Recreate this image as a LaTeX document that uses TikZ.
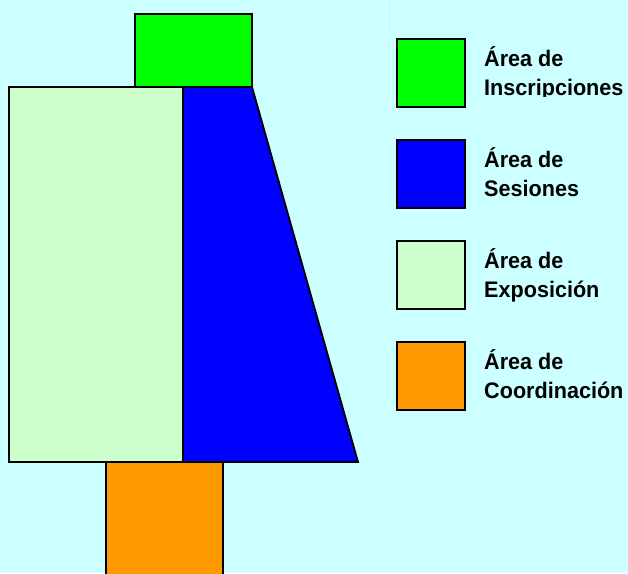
\documentclass[tikz,border=0pt]{standalone}
\usepackage{fontspec}
\setmainfont{Liberation Sans}
\newfontfamily\rotfont[FakeStretch=0.96]{Liberation Sans}
\definecolor{fondo}{HTML}{CCFFFF}
\definecolor{verde}{HTML}{00FF00}
\definecolor{azul}{HTML}{0000FF}
\definecolor{claro}{HTML}{CCFFCC}
\definecolor{naranja}{HTML}{FF9900}
\begin{document}
\begin{tikzpicture}[
  x=1pt, y=-1pt,
  area/.style={draw=black, line width=1.8pt, line join=miter},
  % legend squares hang from their top-left corner:
  muestra/.style={area, minimum size=68pt, inner sep=0pt, anchor=north west},
  rotulo/.style={font=\rotfont\bfseries\fontsize{22.5}{28}\selectfont, inner sep=0pt, anchor=base west}
]
\useasboundingbox (0,0) rectangle (628,573);
\clip (0,0) rectangle (628,573);
\fill[fondo] (0,0) rectangle (628,573);
\draw[white!60!fondo, line width=0.8pt] (386,0) -- (386,36);
% plan of the hall
\draw[area, fill=claro] (9,87) rectangle (183,462);
\draw[area, fill=azul] (183,87) -- (252,87) -- (358,462) -- (183,462) -- cycle;
\draw[area, fill=verde] (135,14) rectangle (252,87);
\draw[area, fill=naranja] (106,462) rectangle (223,580);
% legend
\foreach \i/\col/\nombre/\y in {1/verde/Inscripciones/38, 2/azul/Sesiones/139,
                                 3/claro/Exposición/240, 4/naranja/Coordinación/341} {
  \node[muestra, fill=\col] (caja\i) at (396,\y) {};
  \node[rotulo] (area\i) at (484,\y+28.5) {Área de};
}
\node[rotulo] (nombre2) at (484,139+57.5) {Sesiones};
\node[rotulo] (nombre3) at (484,240+57.5) {Exposición};
\node[rotulo] (nombre4) at (484,341+57.5) {Coordinación};
\begin{scope}
  \clip (470,70) rectangle (628,96);
  \node[rotulo] (nombre1) at (484,38+57.5) {Inscripciones};
\end{scope}
\end{tikzpicture}
\end{document}
